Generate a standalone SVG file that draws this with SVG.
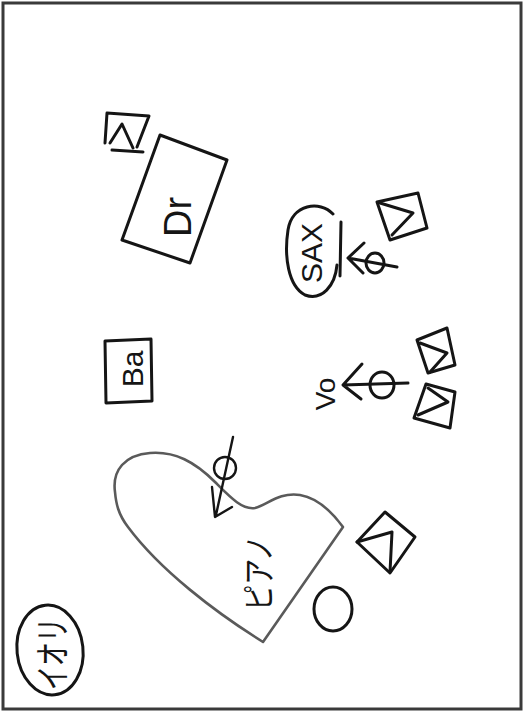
<svg xmlns="http://www.w3.org/2000/svg" width="524" height="712" viewBox="0 0 524 712">
<style>
.ink{fill:none;stroke:#151515;stroke-width:3;stroke-linecap:round;stroke-linejoin:round}
.thin{fill:none;stroke:#151515;stroke-width:2.4;stroke-linecap:round;stroke-linejoin:round}
.grey{fill:none;stroke:#5a5a5a;stroke-width:2.6;stroke-linecap:round;stroke-linejoin:round}
.lbl{font-family:"Liberation Sans",Arial,sans-serif;fill:#151515;text-anchor:middle}
.jp{font-family:"Noto Sans CJK JP","Noto Sans",sans-serif;fill:#151515;text-anchor:middle}
</style>
<rect x="0" y="0" width="524" height="712" fill="#ffffff"/>
<rect x="3" y="3" width="518" height="706" fill="none" stroke="#3a3a3a" stroke-width="3"/>
<g id="connectors"/>
<g id="monitor-drum">
<path class="ink" d="M107,113 L149,116 L137,147 M112,150 L143,152 M107,113 L105,143"/>
<path class="ink" d="M110,143 L122,124 L133,148"/>
</g>
<g id="drums">
<polygon class="ink" points="160,135 227,160 190,263 122,240"/>
<text class="lbl" font-size="38" transform="translate(191,217) rotate(-90)">Dr</text>
</g>
<g id="monitor-sax">
<polygon class="ink" points="377,202 418,193 427,228 390,240"/>
<path class="ink" d="M380,203 L413,213 L392,235"/>
</g>
<g id="sax">
<path class="ink" d="M333,214 C320,200 292,204 288,230 C284,256 288,286 305,295 C322,301 335,286 337,265"/>
<path class="ink" d="M341,222 L340,276"/>
<text class="lbl" font-size="30" transform="translate(322,253) rotate(-90)">SAX</text>
</g>
<g id="mic-sax">
<path class="ink" d="M348,258 L397,267 M348,258 L364,243 M348,258 L363,273"/>
<ellipse class="ink" cx="375" cy="263" rx="9" ry="10"/>
</g>
<g id="bass">
<polygon class="ink" points="105,341 151,339 152,401 106,403"/>
<text class="lbl" font-size="30" transform="translate(143,369) rotate(-90)">Ba</text>
</g>
<g id="vocal">
<text class="lbl" font-size="28" transform="translate(335,394) rotate(-90)">Vo</text>
</g>
<g id="mic-vocal">
<path class="ink" d="M343,385 L408,383 M343,385 L362,364 M343,385 L361,399"/>
<ellipse class="ink" cx="382" cy="385" rx="12" ry="13"/>
</g>
<g id="monitor-vo-1">
<polygon class="ink" points="417,340 447,328 455,365 428,373"/>
<path class="ink" d="M420,343 L447,353 L430,372"/>
</g>
<g id="monitor-vo-2">
<polygon class="ink" points="426,384 455,392 450,428 414,418"/>
<path class="ink" d="M428,388 L448,402 L418,415"/>
</g>
<g id="piano">
<path class="grey" d="M115,492 C112,470 125,455 150,453 C175,451 195,462 215,482 C230,497 242,510 255,508 C268,505 278,492 300,495 C318,498 332,512 343,527 L263,642 C215,612 160,570 128,527 C118,514 116,503 115,492 Z"/>
<text class="jp" font-size="26" transform="translate(271,573) rotate(-90) scale(1,1.25)">ピアノ</text>
</g>
<g id="mic-piano">
<path class="thin" d="M233,437 L216,515 M212,487 L215,517 L232,507"/>
<ellipse class="thin" cx="225" cy="468" rx="11" ry="11"/>
</g>
<g id="stool">
<ellipse class="ink" cx="333" cy="609" rx="19" ry="22"/>
</g>
<g id="monitor-piano">
<polygon class="ink" points="385,512 415,537 390,573 357,542"/>
<path class="ink" d="M357,542 L392,532 L390,572"/>
</g>
<g id="performer">
<ellipse class="ink" cx="50" cy="650" rx="33" ry="45" transform="rotate(-6 50 650)"/>
<text class="jp" font-size="24" transform="translate(66,654) rotate(-90) scale(1,1.5)">イオリ</text>
</g>
</svg>
